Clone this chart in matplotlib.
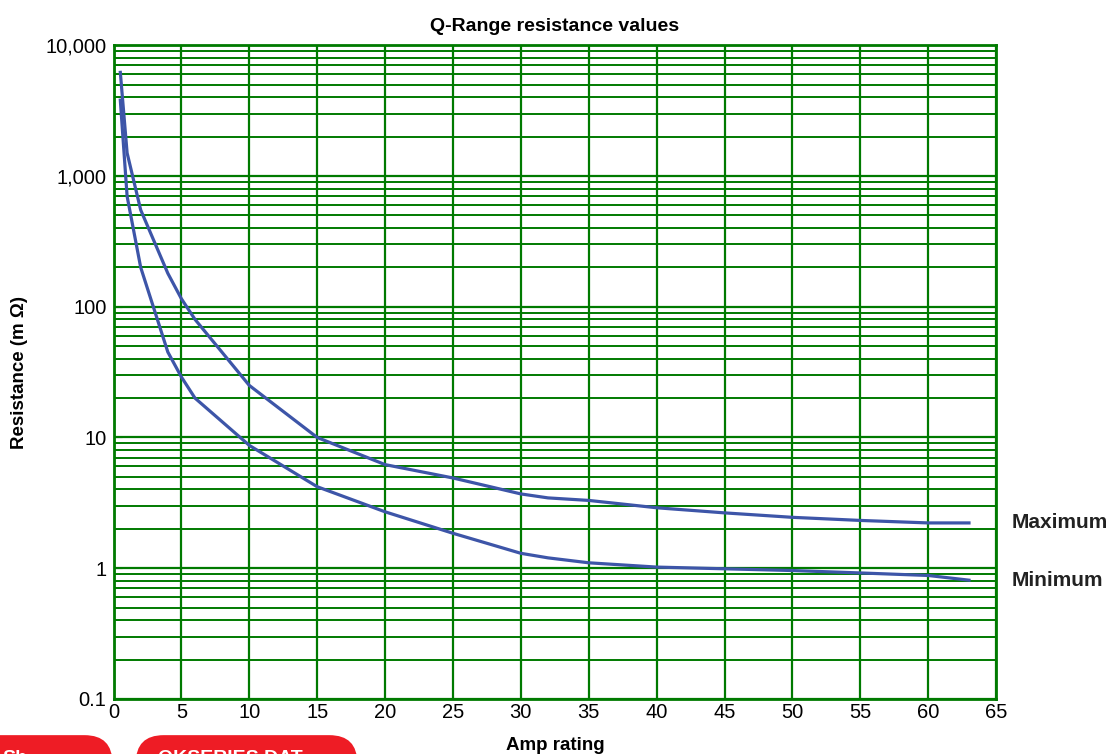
import matplotlib
matplotlib.use("Agg")
import matplotlib.pyplot as plt
from matplotlib.patches import FancyBboxPatch
from matplotlib.ticker import FixedLocator, LogLocator, NullFormatter

plt.rcParams['font.family'] = ['Liberation Sans', 'DejaVu Sans']

# Données
amps_max = [0.5, 1, 2, 4, 5, 6, 10, 15, 20, 25, 30, 32, 35, 40, 45, 50, 55, 60, 63]
res_max = [6200, 1500, 550, 180, 115, 80, 25, 10, 6.2, 4.9, 3.7, 3.45, 3.3, 2.9, 2.65, 2.45, 2.32, 2.22, 2.22]

amps_min = [0.5, 1, 2, 4, 5, 6, 10, 15, 20, 25, 30, 32, 35, 40, 45, 50, 55, 60, 63]
res_min = [3800, 700, 200, 45, 29, 20, 8.7, 4.2, 2.7, 1.85, 1.3, 1.2, 1.1, 1.02, 0.99, 0.96, 0.92, 0.88, 0.81]

x_ticks = list(range(0, 70, 5))
y_ticks = [0.1, 1, 10, 100, 1000, 10000]
y_labels = ["0.1", "1", "10", "100", "1,000", "10,000"]

vert = "#007a00"
blue = "#3d55a8"

fig = plt.figure(figsize=(11.13, 7.54), dpi=100)
ax = fig.add_axes([0.102, 0.073, 0.793, 0.867])

ax.plot(amps_max, res_max, color=blue, lw=2.3, zorder=3)
ax.plot(amps_min, res_min, color=blue, lw=2.3, zorder=3)

ax.set_yscale("log")
ax.set_xlim(0, 65)
ax.set_ylim(0.1, 10000)

ax.xaxis.set_major_locator(FixedLocator(x_ticks))
ax.set_yticks(y_ticks)
ax.set_yticklabels(y_labels)
ax.yaxis.set_minor_locator(LogLocator(base=10, subs=range(2, 10)))
ax.yaxis.set_minor_formatter(NullFormatter())

ax.grid(True, which="major", axis="both", color=vert, lw=1.6)
ax.grid(True, which="minor", axis="y", color=vert, lw=1.4)

for s in ax.spines.values():
    s.set_color(vert)
    s.set_linewidth(2)

ax.tick_params(axis="both", which="major", labelsize=14.5, length=0, pad=5)
ax.tick_params(axis="x", which="major", pad=3)
ax.tick_params(axis="y", which="minor", length=4, color=vert, direction="in")
ax.tick_params(axis="y", which="major", length=6, color=vert, direction="in")

ax.set_title("Q-Range resistance values", fontsize=14, fontweight="semibold", pad=10)
ax.set_xlabel("Amp rating", fontsize=13.5, fontweight="semibold")
ax.set_ylabel("Resistance (m \u03a9)", fontsize=13.5, fontweight="semibold")
ax.xaxis.set_label_coords(0.5, -0.058)
ax.yaxis.set_label_coords(-0.097, 0.5)

# Étiquettes des courbes
ax.text(1.018, 2.25, "Maximum", transform=ax.get_yaxis_transform(), fontsize=15,
        fontweight="semibold", color="#222222", va="center", ha="left", clip_on=False)
ax.text(1.018, 0.81, "Minimum", transform=ax.get_yaxis_transform(), fontsize=15,
        fontweight="semibold", color="#222222", va="center", ha="left", clip_on=False)

# Boutons rouges coupés en bas
rouge = "#ee1c25"
for x0, w, tx, txt in [(-0.05, 0.151, 0.002, "Sh"), (0.122, 0.199, 0.142, "QKSERIES DAT")]:
    fig.patches.append(FancyBboxPatch((x0, -0.06), w, 0.085, boxstyle="round,pad=0,rounding_size=0.025",
                                      transform=fig.transFigure, facecolor=rouge, edgecolor="none",
                                      mutation_aspect=1.48))
    fig.text(tx, 0.0055, txt, color="white", fontsize=14, fontweight="bold", ha="left", va="top")

fig.savefig("out.png", dpi=100)
